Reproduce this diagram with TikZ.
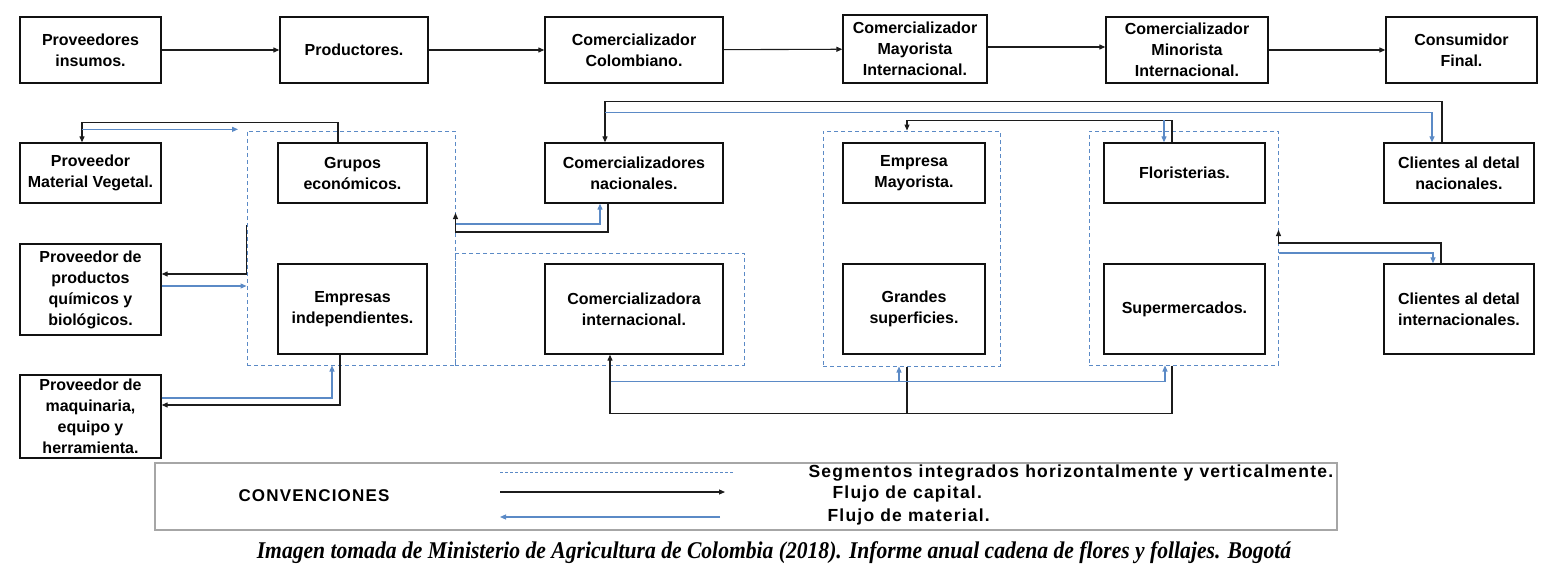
\documentclass[tikz,border=0pt]{standalone}
\usepackage{fontspec}
\setmainfont{Liberation Sans}
\newfontfamily\citafont[FakeStretch=0.9]{Liberation Serif}
\newfontfamily\leyfont[LetterSpace=7]{Liberation Sans}
\usepackage{xcolor}
\usepackage{tikz}
\usetikzlibrary{positioning,arrows.meta,calc}
\definecolor{capital}{HTML}{1C1C1C}
\definecolor{material}{HTML}{5B8AC6}
\definecolor{segmento}{HTML}{5B8AC6}
\definecolor{borde}{HTML}{111111}
\tikzset{
    caja/.style={rectangle, draw=borde, line width=1.3pt, align=center, inner sep=2pt, font=\fontsize{16}{21}\selectfont\bfseries},
    grupo/.style={rectangle, draw=segmento, line width=1pt, dash pattern=on 4pt off 3pt, inner sep=0pt},
    segline/.style={draw=segmento, line width=1pt, dash pattern=on 3pt off 2pt},
    flujocap/.style={-{Triangle[length=6pt,width=5pt]}, line width=1.1pt, color=capital},
    flujomat/.style={-{Triangle[length=6pt,width=5pt]}, line width=1.1pt, color=material},
    leyenda/.style={anchor=west, font=\leyfont\fontsize{17.5}{19}\selectfont\bfseries}
}
\begin{document}
\begin{tikzpicture}[x=1pt, y=-1pt]
\useasboundingbox (0,0) rectangle (1548,586);

% cadena principal
\node[caja, minimum width=141pt, minimum height=66pt] (ins) at (90.5,50) {Proveedores\\insumos.};
\node[caja, minimum width=148pt, minimum height=66pt] (prod) at (354,50) {Productores.};
\node[caja, minimum width=178pt, minimum height=66pt] (col) at (634,50) {Comercializador\\Colombiano.};
\node[caja, minimum width=144pt, minimum height=68pt] (may) at (915,49) {Comercializador\\Mayorista\\Internacional.};
\node[caja, minimum width=162pt, minimum height=66pt] (min) at (1187,50) {Comercializador\\Minorista\\Internacional.};
\node[caja, minimum width=151pt, minimum height=66pt] (fin) at (1461.5,50) {Consumidor\\Final.};

\draw[flujocap] (ins) -- (prod);
\draw[flujocap] (prod) -- (col);
\draw[flujocap] (col) -- (may);
\draw[flujocap] ([yshift=2pt]may.east) -- ([yshift=2pt]may.east -| min.west);
\draw[flujocap] (min) -- (fin);

% segmentos integrados
\node[grupo, minimum width=208pt, minimum height=234pt] (seg1) at (351,248) {};
\node[grupo, minimum width=289pt, minimum height=112pt] (seg2) at (599.5,309) {};
\node[grupo, minimum width=177pt, minimum height=235pt] (seg3) at (911.5,248.5) {};
\node[grupo, minimum width=189pt, minimum height=234pt] (seg4) at (1183.5,248) {};

% actores
\node[caja, minimum width=141pt, minimum height=60pt] (pmv) at (90.5,173) {Proveedor\\Material Vegetal.};
\node[caja, minimum width=141pt, minimum height=91pt] (ppq) at (90.5,289.5) {Proveedor de\\productos\\químicos y\\biológicos.};
\node[caja, minimum width=141pt, minimum height=83pt] (maq) at (90.5,416.5) {Proveedor de\\maquinaria,\\equipo y\\herramienta.};
\node[caja, minimum width=149pt, minimum height=60pt] (grupos) at (352.5,173) {Grupos\\económicos.};
\node[caja, minimum width=149pt, minimum height=90pt] (empind) at (352.5,309) {Empresas\\independientes.};
\node[caja, minimum width=178pt, minimum height=60pt] (comnac) at (634,173) {Comercializadores\\nacionales.};
\node[caja, minimum width=178pt, minimum height=90pt] (comint) at (634,309) {Comercializadora\\internacional.};
\node[caja, minimum width=142pt, minimum height=60pt] (mayor) at (914,173) {Empresa\\Mayorista.};
\node[caja, minimum width=142pt, minimum height=90pt] (grandes) at (914,309) {Grandes\\superficies.};
\node[caja, minimum width=161pt, minimum height=60pt] (flor) at (1184.5,173) {Floristerias.};
\node[caja, minimum width=161pt, minimum height=90pt] (super) at (1184.5,309) {Supermercados.};
\node[caja, minimum width=150pt, minimum height=60pt] (clnac) at (1459,173) {Clientes al detal\\nacionales.};
\node[caja, minimum width=150pt, minimum height=90pt] (clint) at (1459,309) {Clientes al detal\\internacionales.};

% proveedores
\draw[flujocap] ([xshift=-14.5pt]grupos.north) |- ([xshift=-8.5pt,yshift=20pt]pmv.north) -- ([xshift=-8.5pt]pmv.north);
\draw[flujomat] ([xshift=-8.5pt,yshift=13pt]pmv.north) -- ([xshift=-8.5pt,yshift=13pt]pmv.north -| seg1.west);
\draw[flujocap] ([yshift=23pt]seg1.west) |- ([yshift=15.5pt]ppq.east);
\draw[flujomat] ([yshift=3.5pt]ppq.east) -- ([yshift=3.5pt]ppq.east -| seg1.west);
\draw[flujocap] ([xshift=-12.5pt]empind.south) |- ([yshift=11.5pt]maq.east);
\draw[flujomat] ([yshift=18.5pt]maq.east) -| ([xshift=-19pt]seg1.south);

% comercializadores nacionales
\draw[flujocap] ([xshift=-26pt]comnac.south) |- ([yshift=16pt]seg1.east) -- ([yshift=35pt]seg1.east);
\draw[flujomat] ([yshift=24pt]seg1.east) -| ([xshift=-34pt]comnac.south);
\draw[flujocap] ([xshift=-17pt]clnac.north) |- ([xshift=-29pt,yshift=41pt]comnac.north) -- ([xshift=-29pt]comnac.north);
\draw[flujomat] ([xshift=-29pt,yshift=30pt]comnac.north) -| ([xshift=-27pt]clnac.north);

% mayoristas y floristerias
\draw[flujocap] ([xshift=-12.5pt]flor.north) |- ([xshift=-4.5pt,yshift=10pt]seg3.north) -- ([xshift=-4.5pt]seg3.north);
\draw[flujomat] ([xshift=-20.5pt,yshift=22pt]flor.north) -- ([xshift=-20.5pt]flor.north);

% comercializadora internacional
\draw[flujocap] ([xshift=-11.5pt]seg4.south) |- ([xshift=-24pt,yshift=-59pt]comint.south) -- ([xshift=-24pt]comint.south);
\draw[line width=1.1pt, color=capital] ([xshift=-4.5pt]seg3.south) -- ++(0,47);
\draw[flujomat] ([xshift=-23pt,yshift=-27pt]comint.south) -| ([xshift=-18.5pt]seg4.south);
\draw[flujomat] ([xshift=-12.5pt,yshift=-15pt]seg3.south) -- ([xshift=-12.5pt]seg3.south);

% clientes internacionales
\draw[flujocap] ([xshift=-18pt]clint.north) |- ([yshift=5pt]seg4.east) -- ([yshift=18pt]seg4.east);
\draw[flujomat] ([yshift=-5pt]seg4.east) -| ([xshift=-26pt]clint.north);

% convenciones
\node[draw=gray!70, line width=1.2pt, minimum width=1182pt, minimum height=67pt] (conv) at (746,496.5) {};
\node[font=\leyfont\fontsize{17}{19}\selectfont\bfseries] (convtxt) at (314,496) {CONVENCIONES};
\coordinate (s1) at (500,472);
\coordinate (s2) at (733,472);
\coordinate (k1) at (500,492);
\coordinate (k2) at (725,492);
\coordinate (m1) at (720,517);
\coordinate (m2) at (500,517);
\draw[segline] (s1) -- (s2);
\draw[flujocap] (k1) -- (k2);
\draw[flujomat] (m1) -- (m2);
\node[leyenda] (t1) at (805,473) {Segmentos integrados horizontalmente y verticalmente.};
\node[leyenda] (t2) at (829,494) {Flujo de capital.};
\node[leyenda] (t3) at (824,517) {Flujo de material.};

\node[font=\citafont\fontsize{24}{26}\selectfont\bfseries\itshape] (cita) at (774,553) {Imagen tomada de Ministerio de Agricultura de Colombia (2018). Informe anual cadena de flores y follajes. Bogotá};
\end{tikzpicture}
\end{document}
